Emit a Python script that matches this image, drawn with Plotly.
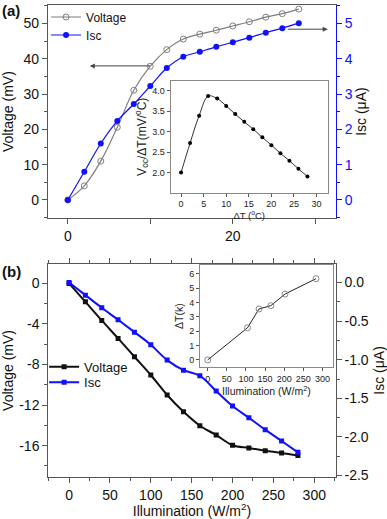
import plotly.graph_objects as go

# ---------- data ----------
# Panel (a): main
dT_a = [0, 2, 4, 6, 8, 10, 12, 14, 16, 18, 20, 22, 24, 26, 28]
voltage_a = [0, 4.0, 11.0, 20.6, 31.1, 37.9, 42.6, 45.6, 47.0, 48.1, 49.3, 50.5, 51.8, 52.8, 54.1]
isc_a = [0, 0.80, 1.60, 2.24, 2.72, 3.23, 3.74, 4.06, 4.20, 4.34, 4.47, 4.60, 4.74, 4.87, 5.01]
# Panel (a): inset
dT_in = [0, 2, 4, 6, 8, 10, 12, 14, 16, 18, 20, 22, 24, 26, 28]
voc_per_dT = [2.0, 2.72, 3.39, 3.87, 3.81, 3.63, 3.43, 3.24, 3.06, 2.86, 2.67, 2.47, 2.29, 2.09, 1.90]
# Panel (b): main
illum_b = [0, 20, 40, 60, 80, 100, 120, 140, 160, 180, 200, 220, 240, 260, 280]
voltage_b = [0, -1.81, -3.65, -5.42, -7.23, -9.03, -11.0, -12.65, -14.03, -14.95, -15.96, -16.23, -16.49, -16.72, -16.98]
isc_b = [0, -0.164, -0.328, -0.483, -0.643, -0.807, -1.005, -1.135, -1.208, -1.406, -1.60, -1.751, -1.906, -2.053, -2.20]
# Panel (b): inset
illum_in = [0, 104, 134, 165, 202, 283]
deltaT_in = [0, 2.24, 3.55, 3.78, 4.59, 5.66]
# tick labels (hyphen minus as in the original)
volt_b_ticks = [0, -4, -8, -12, -16]
volt_b_labels = ["0", "-4", "-8", "-12", "-16"]
isc_b_ticks = [0.0, -0.5, -1.0, -1.5, -2.0, -2.5]
isc_b_labels = ["0.0", "-0.5", "-1.0", "-1.5", "-2.0", "-2.5"]

FONT = "Liberation Sans, Arial, sans-serif"
GRAY = "#7f7f7f"
AXC = "#555555"
BLUE = "#1010ff"

fig = go.Figure()

# Panel (a)
fig.add_trace(go.Scatter(x=dT_a, y=voltage_a, name="Voltage", mode="lines+markers",
                         line=dict(color=GRAY, width=1.2, shape="spline"),
                         marker=dict(symbol="circle-open", size=6, color=GRAY, line=dict(width=1)),
                         xaxis="x", yaxis="y", legend="legend"))
fig.add_trace(go.Scatter(x=dT_a, y=isc_a, name="Isc", mode="lines+markers",
                         line=dict(color=BLUE, width=1.2, shape="spline"),
                         marker=dict(symbol="circle", size=6, color=BLUE),
                         xaxis="x", yaxis="y2", legend="legend2"))
fig.add_trace(go.Scatter(x=dT_in, y=voc_per_dT, mode="lines+markers", showlegend=False,
                         line=dict(color="#333333", width=1, shape="spline"),
                         marker=dict(symbol="circle", size=4, color="black"),
                         xaxis="x2", yaxis="y3"))

# Panel (b)
fig.add_trace(go.Scatter(x=illum_b, y=voltage_b, name="Voltage", mode="lines+markers",
                         line=dict(color="#111111", width=2, shape="spline"),
                         marker=dict(symbol="square", size=5, color="#111111"),
                         xaxis="x3", yaxis="y4", legend="legend3"))
fig.add_trace(go.Scatter(x=illum_b, y=isc_b, name="Isc", mode="lines+markers",
                         line=dict(color=BLUE, width=2, shape="spline"),
                         marker=dict(symbol="square", size=5, color=BLUE),
                         xaxis="x3", yaxis="y5", legend="legend4"))
fig.add_trace(go.Scatter(x=illum_in, y=deltaT_in, mode="lines+markers", showlegend=False,
                         line=dict(color="#222222", width=1),
                         marker=dict(symbol="circle-open", size=6, color="#888888", line=dict(width=1)),
                         xaxis="x4", yaxis="y6"))

tickf = dict(family=FONT, size=14, color="#111111")
smallf = dict(family=FONT, size=9, color="#222222")

main_ax = dict(showline=True, linecolor=AXC, linewidth=1.3, ticks="outside", ticklen=5,
               tickcolor=AXC, showgrid=False, zeroline=False, tickfont=tickf, automargin=False,
               title_font=dict(family=FONT, size=14, color="#111111"))
inset_ax = dict(showline=True, linecolor="#888888", linewidth=1, mirror=True, ticks="outside",
                ticklen=3, tickcolor="#555555", showgrid=False, zeroline=False, tickfont=smallf,
                automargin=False)

def leg(x, y, size):
    return dict(x=x, y=y, xanchor="left", yanchor="middle", bgcolor="rgba(0,0,0,0)",
                font=dict(family=FONT, size=size, color="#111111"), itemwidth=30)

fig.update_layout(
    width=387, height=519,
    margin=dict(l=0, r=0, t=0, b=0),
    paper_bgcolor="white", plot_bgcolor="rgba(0,0,0,0)",
    font=dict(family=FONT, color="#111111"),
    xaxis=dict(domain=[0.124, 0.868], anchor="y", range=[-2.4, 32.5],
               tickvals=[0, 10, 20, 30], ticktext=["0", "", "20", ""], mirror=True, **main_ax),
    yaxis=dict(domain=[0.580, 0.990], anchor="x", range=[-5.1, 55.2], dtick=10,
               minor=dict(dtick=5, ticks="outside", ticklen=3, tickcolor=AXC),
               title=dict(text="Voltage (mV)", standoff=6), **main_ax),
    yaxis2=dict(overlaying="y", anchor="x", side="right", range=[-0.51, 5.52], dtick=1,
                showline=True, linecolor=BLUE, linewidth=1.3, ticks="outside", ticklen=5,
                tickcolor=BLUE, showgrid=False, zeroline=False, automargin=False,
                minor=dict(dtick=0.5, ticks="outside", ticklen=3, tickcolor=BLUE),
                tickfont=dict(family=FONT, size=14, color=BLUE),
                title=dict(text="Isc (μA)", font=dict(family=FONT, size=14, color="#111111"), standoff=4)),
    xaxis2=dict(domain=[0.441, 0.847], anchor="y3", range=[-2.3, 32.5], dtick=5,
                title=dict(text="ΔT (<sup>o</sup>C)", standoff=0, font=dict(family=FONT, size=9.5, color="#222222")),
                **inset_ax),
    yaxis3=dict(domain=[0.629, 0.844], anchor="x2", range=[1.51, 4.24], dtick=0.5, tickformat=".1f",
                title=dict(text="V<sub>oc</sub>/ΔT(mV/<sup>o</sup>C)", standoff=3,
                           font=dict(family=FONT, size=12, color="#222222")), **inset_ax),
    xaxis3=dict(domain=[0.125, 0.867], anchor="y4", range=[-25.3, 326], dtick=50,
                minor=dict(dtick=25, ticks="outside", ticklen=3, tickcolor=AXC),
                mirror="ticks", title=dict(text="Illumination (W/m<sup>2</sup>)", standoff=5), **main_ax),
    yaxis4=dict(domain=[0.0815, 0.491], anchor="x3", range=[-19.06, 1.9],
                tickvals=volt_b_ticks, ticktext=volt_b_labels,
                minor=dict(dtick=2, ticks="outside", ticklen=3, tickcolor=AXC),
                title=dict(text="Voltage (mV)", standoff=6), **main_ax),
    yaxis5=dict(overlaying="y4", anchor="x3", side="right", range=[-2.515, 0.237],
                tickvals=isc_b_ticks, ticktext=isc_b_labels,
                minor=dict(dtick=0.25, ticks="outside", ticklen=3, tickcolor=AXC),
                title=dict(text="Isc (μA)", standoff=6), **main_ax),
    xaxis4=dict(domain=[0.517, 0.860], anchor="y6", range=[-20, 327], dtick=50,
                title=dict(text="Illumination (W/m<sup>2</sup>)", standoff=0,
                           font=dict(family=FONT, size=10.5, color="#222222")), **inset_ax),
    yaxis6=dict(domain=[0.293, 0.489], anchor="x4", range=[-0.49, 6.6], dtick=1,
                title=dict(text="ΔT(k)", standoff=3, font=dict(family=FONT, size=10.5, color="#222222")),
                **inset_ax),
    legend=leg(0.119, 1 - 17 / 519, 12),
    legend2=leg(0.119, 1 - 35 / 519, 12),
    legend3=leg(0.114, 1 - 366.7 / 519, 13),
    legend4=leg(0.114, 1 - 382.3 / 519, 13),
    annotations=[
        dict(text="<b>(a)</b>", x=0.0, y=1.0, xref="paper", yref="paper", xanchor="left",
             yanchor="top", showarrow=False, font=dict(family=FONT, size=15, color="#111111")),
        dict(text="<b>(b)</b>", x=0.0, y=0.497, xref="paper", yref="paper", xanchor="left",
             yanchor="top", showarrow=False, font=dict(family=FONT, size=15, color="#111111")),
        dict(x=2.67, y=38.0, xref="x", yref="y", ax=10.15, ay=38.0, axref="x", ayref="y",
             showarrow=True, arrowhead=2, arrowsize=1, arrowwidth=1, arrowcolor="#444444", text=""),
        dict(x=31.5, y=4.84, xref="x", yref="y2", ax=26.5, ay=4.84, axref="x", ayref="y2",
             showarrow=True, arrowhead=2, arrowsize=1, arrowwidth=1, arrowcolor="#444444", text=""),
    ],
)

fig.write_html("out.html", config={"displayModeBar": False},
               post_script="document.body.style.margin='0';document.body.style.overflow='hidden';")
